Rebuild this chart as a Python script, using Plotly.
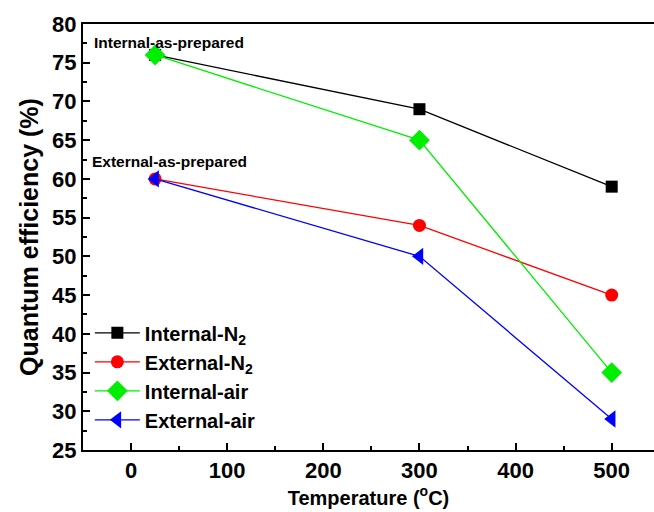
import plotly.graph_objects as go

temps = [25, 300, 500]
internal_n2 = [76, 69, 59]
external_n2 = [60, 54, 45]
internal_air = [76, 65, 35]
external_air = [60, 50, 29]

series = [
    ("<b>Internal-N<sub>2</sub></b>", internal_n2, "black", "square", 12),
    ("<b>External-N<sub>2</sub></b>", external_n2, "red", "circle", 13),
    ("<b>Internal-air</b>", internal_air, "#00ee00", "diamond", 16),
    ("<b>External-air</b>", external_air, "blue", "triangle-left", 15),
]

fig = go.Figure()
for name, vals, col, sym, sz in series:
    fig.add_trace(go.Scatter(
        x=temps, y=vals, mode="lines+markers", name=name,
        line=dict(color=col, width=1.3),
        marker=dict(color=col, symbol=sym, size=sz),
    ))

font = "Liberation Sans, Arial, sans-serif"
fig.update_layout(
    width=654, height=512,
    margin=dict(l=83, r=0, t=24, b=62),
    plot_bgcolor="white", paper_bgcolor="white",
    font=dict(family=font, color="black"),
    showlegend=True,
    legend=dict(x=0.012, y=0.025, xanchor="left", yanchor="bottom",
                bgcolor="rgba(0,0,0,0)", font=dict(size=20, family=font),
                tracegroupgap=0, itemwidth=45),
    xaxis=dict(range=[-50, 544], tickvals=[0, 100, 200, 300, 400, 500],
               ticks="inside", ticklen=7, tickwidth=1.5, tickcolor="black",
               minor=dict(dtick=50, tick0=0, ticks="inside", ticklen=4, tickcolor="black", tickwidth=1.5),
               showline=True, linecolor="black", linewidth=2, mirror=True,
               showgrid=False, zeroline=False,
               tickfont=dict(size=22, family=font, weight="bold"),
               title=dict(text="Temperature (<sup>o</sup>C)", font=dict(size=20, weight="bold"), standoff=6)),
    yaxis=dict(range=[25, 80], dtick=5, tick0=25,
               ticks="inside", ticklen=7, tickwidth=1.5, tickcolor="black",
               minor=dict(dtick=2.5, tick0=25, ticks="inside", ticklen=4, tickcolor="black", tickwidth=1.5),
               showline=True, linecolor="black", linewidth=2,
               showgrid=False, zeroline=False,
               tickfont=dict(size=22, family=font, weight="bold"),
               title=dict(text="Quantum efficiency (%)", font=dict(size=25, weight="bold"), standoff=6)),
)

fig.add_annotation(x=-41, y=77.6, text="Internal-as-prepared", showarrow=False,
                   xanchor="left", yanchor="middle", font=dict(size=15.5, weight="bold"))
fig.add_annotation(x=-43, y=62.3, text="External-as-prepared", showarrow=False,
                   xanchor="left", yanchor="middle", font=dict(size=15.5, weight="bold"))

fig.write_html("out.html")
